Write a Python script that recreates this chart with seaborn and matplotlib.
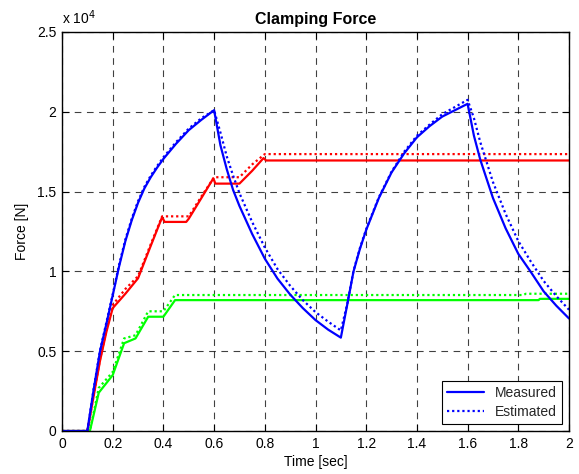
import matplotlib
matplotlib.use("Agg")
import matplotlib.pyplot as plt
from matplotlib.ticker import FixedLocator
import seaborn as sns
import pandas as pd

# ---- data (force in newtons, time in seconds) ----
t_blue = [0.0, 0.1, 0.125, 0.15, 0.175, 0.2, 0.225, 0.25, 0.275, 0.3, 0.325, 0.35,
          0.375, 0.4, 0.45, 0.5, 0.55, 0.6, 0.625, 0.65, 0.675, 0.7, 0.75, 0.8,
          0.85, 0.9, 0.95, 1.0, 1.05, 1.1, 1.125, 1.15, 1.175, 1.2, 1.25, 1.3,
          1.35, 1.4, 1.45, 1.5, 1.55, 1.6, 1.625, 1.65, 1.7, 1.75, 1.8, 1.85,
          1.9, 1.95, 2.0]
blue_measured = [0, 0, 2600, 5000, 6700, 8500, 10300, 11900, 13200, 14300, 15200, 15900,
                 16500, 17050, 18000, 18850, 19500, 20100, 17900, 16400, 15100, 14100,
                 12350, 10800, 9550, 8550, 7700, 6950, 6350, 5850, 7900, 10000, 11400,
                 12600, 14600, 16200, 17400, 18400, 19100, 19700, 20100, 20500, 18500,
                 17000, 14600, 12700, 11100, 9950, 8750, 7850, 7050]
blue_estimated = [0, 0, 2650, 5050, 6800, 8550, 10400, 12000, 13300, 14400, 15300, 16000,
                  16600, 17150, 18100, 18950, 19600, 20100, 18700, 17200, 16000, 14900,
                  13100, 11500, 10150, 9100, 8200, 7450, 6850, 6300, 7950, 10050, 11450,
                  12650, 14650, 16250, 17500, 18500, 19200, 19850, 20300, 20750, 19600,
                  18100, 15600, 13600, 11900, 10600, 9400, 8450, 7600]

t_red_m = [0.0, 0.1, 0.125, 0.15, 0.175, 0.2, 0.25, 0.3, 0.35, 0.395, 0.405, 0.49,
           0.5, 0.55, 0.597, 0.605, 0.7, 0.75, 0.795, 0.805, 2.0]
red_measured = [0, 0, 2200, 4400, 6200, 7700, 8600, 9570, 11600, 13400, 13100, 13100,
                13300, 14600, 15830, 15500, 15500, 16300, 17100, 16950, 16950]
t_red_e = [0.0, 0.1, 0.125, 0.15, 0.175, 0.2, 0.25, 0.3, 0.35, 0.395, 0.5, 0.55,
           0.6, 0.7, 0.75, 0.8, 2.0]
red_estimated = [0, 0, 2250, 4500, 6300, 7900, 8900, 9700, 11700, 13450, 13450, 14700,
                 15900, 15900, 16700, 17350, 17350]

t_green_m = [0.0, 0.11, 0.145, 0.2, 0.245, 0.29, 0.34, 0.4, 0.446, 1.88, 1.885, 2.0]
green_measured = [0, 0, 2400, 3500, 5500, 5800, 7160, 7160, 8200, 8200, 8280, 8280]
t_green_e = [0.0, 0.11, 0.145, 0.2, 0.245, 0.29, 0.34, 0.4, 0.446, 1.82, 1.83, 2.0]
green_estimated = [0, 0, 2700, 3700, 5800, 6000, 7500, 7500, 8520, 8520, 8600, 8600]

x_ticks = [0, 0.2, 0.4, 0.6, 0.8, 1.0, 1.2, 1.4, 1.6, 1.8, 2.0]
x_tick_labels = ["0", "0.2", "0.4", "0.6", "0.8", "1", "1.2", "1.4", "1.6", "1.8", "2"]
y_ticks = [0, 5000, 10000, 15000, 20000, 25000]
y_tick_labels = ["0", "0.5", "1", "1.5", "2", "2.5"]

sns.set_theme(style="white")
plt.rcParams["font.family"] = ["Liberation Sans", "DejaVu Sans"]

fig = plt.figure(figsize=(5.79, 4.74), dpi=100)
ax = fig.add_axes([62 / 579, 43 / 474, 507 / 579, 399 / 474])

lw = 1.6
dotted = (0, (1, 1.3))
series = [
    (t_green_m, green_measured, "#00ff00", "-"),
    (t_green_e, green_estimated, "#00ff00", dotted),
    (t_red_m, red_measured, "#ff0000", "-"),
    (t_red_e, red_estimated, "#ff0000", dotted),
]
for t, v, c, ls in series:
    sns.lineplot(x=t, y=v, ax=ax, color=c, linestyle=ls, linewidth=lw,
                 estimator=None, sort=False)

df_blue = pd.DataFrame({"t": t_blue + t_blue,
                        "F": blue_measured + blue_estimated,
                        "kind": ["Measured"] * len(t_blue) + ["Estimated"] * len(t_blue)})
sns.lineplot(data=df_blue[df_blue.kind == "Measured"], x="t", y="F", ax=ax,
             color="#0000ff", linestyle="-", linewidth=lw, estimator=None,
             sort=False, label="Measured")
sns.lineplot(data=df_blue[df_blue.kind == "Estimated"], x="t", y="F", ax=ax,
             color="#0000ff", linestyle=dotted, linewidth=lw, estimator=None,
             sort=False, label="Estimated")

ax.set_xlim(0, 2)
ax.set_ylim(0, 25000)
ax.xaxis.set_major_locator(FixedLocator(x_ticks))
ax.yaxis.set_major_locator(FixedLocator(y_ticks))
ax.set_xticklabels(x_tick_labels)
ax.set_yticklabels(y_tick_labels)

ax.grid(True, color="black", linestyle=(0, (6, 5)), linewidth=0.8, alpha=0.75)
for s in ax.spines.values():
    s.set_color("black")
    s.set_linewidth(1.0)
ax.tick_params(axis="both", which="both", direction="in", length=5, width=0.8,
               top=True, right=True, bottom=True, left=True,
               labelsize=10, colors="black", pad=4)

ax.set_xlabel("Time [sec]", fontsize=10, color="black", labelpad=3)
ax.set_ylabel("Force [N]", fontsize=10, color="black", labelpad=6)
ax.set_title("Clamping Force", fontsize=11.5, fontweight="bold", color="black", pad=6)
ax.text(0.0, 1.012, r"x 10$^{4}$", transform=ax.transAxes, fontsize=10,
        ha="left", va="bottom", color="black")

handles, labels = ax.get_legend_handles_labels()
leg = ax.legend(handles, labels, loc="lower right", fontsize=10, frameon=True,
                fancybox=False, edgecolor="black", framealpha=1,
                borderaxespad=0.5, handlelength=2.6, borderpad=0.4,
                labelspacing=0.3)
leg.get_frame().set_linewidth(0.8)

fig.savefig("out.png", dpi=100)
